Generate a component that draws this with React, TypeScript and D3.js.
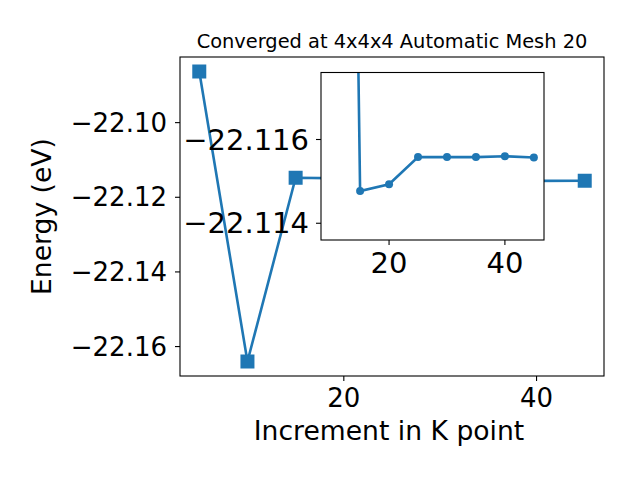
import React from 'react';
import * as d3 from 'd3';

// k-point increments and total energies (eV)
const kPoints = [5, 10, 15, 20, 25, 30, 35, 40, 45];
const energies = [-22.0863, -22.164, -22.11477, -22.11493, -22.11558, -22.11558, -22.11558, -22.1156, -22.11557];

const mainXTicks = [20, 40];
const mainYTicks = [-22.1, -22.12, -22.14, -22.16];
const insetXTicks = [20, 40];
const insetYTicks = [-22.116, -22.114];
// inset y range, inverted (top, bottom)
const insetYLim = [-22.1176, -22.1136];

const titleText = 'Converged at 4x4x4 Automatic Mesh 20';
const xLabel = 'Increment in K point';
const yLabel = 'Energy (eV)';

const W = 640;
const H = 480;
const blue = '#1f77b4';
const font = 'DejaVu Sans, sans-serif';
const tickFont = 26;
const insetFont = 29;

// matplotlib style 5% padding
const pad = (ext: [number, number]) => {
  const r = ext[1] - ext[0];
  return [ext[0] - r * 0.05, ext[1] + r * 0.05];
};

export default function App() {
  // main axes box
  const m = { left: 180, right: 604, top: 57, bottom: 376 };
  const x = d3.scaleLinear().domain(pad(d3.extent(kPoints) as [number, number])).range([m.left, m.right]);
  const y = d3.scaleLinear().domain(pad(d3.extent(energies) as [number, number])).range([m.bottom, m.top]);

  // inset axes box
  const ins = { left: 321, right: 544, top: 72.5, bottom: 240 };
  const insK = kPoints.slice(1);
  const insE = energies.slice(1);
  const ix = d3.scaleLinear().domain(pad(d3.extent(insK) as [number, number])).range([ins.left, ins.right]);
  const iy = d3.scaleLinear().domain(insetYLim).range([ins.top, ins.bottom]);

  const pts = kPoints.map((k, i) => [k, energies[i]] as [number, number]);
  const insPts = insK.map((k, i) => [k, insE[i]] as [number, number]);

  const mainLine = d3.line<[number, number]>().x(d => x(d[0])).y(d => y(d[1]));
  const insLine = d3.line<[number, number]>().x(d => ix(d[0])).y(d => iy(d[1]));

  const fmt2 = d3.format('.2f');
  const fmt3 = d3.format('.3f');
  const ms = 14;

  return (
    <svg width={W} height={H} style={{ position: 'absolute', left: 0, top: 0, background: '#fff' }} fontFamily={font}>
      <defs>
        <clipPath id="insClip">
          <rect x={ins.left} y={ins.top} width={ins.right - ins.left} height={ins.bottom - ins.top} />
        </clipPath>
      </defs>
      <rect width={W} height={H} fill="#fff" />

      {/* main axes */}
      <path d={mainLine(pts) || ''} fill="none" stroke={blue} strokeWidth={2.6} />
      {pts.map((d, i) => (
        <rect key={i} x={x(d[0]) - ms / 2} y={y(d[1]) - ms / 2} width={ms} height={ms} fill={blue} />
      ))}
      <rect x={m.left} y={m.top} width={m.right - m.left} height={m.bottom - m.top} fill="none" stroke="#000" strokeWidth={1.1} />
      {mainXTicks.map(t => (
        <g key={t}>
          <line x1={x(t)} x2={x(t)} y1={m.bottom} y2={m.bottom + 5} stroke="#000" strokeWidth={1.1} />
          <text x={x(t)} y={m.bottom + 31} textAnchor="middle" fontSize={tickFont}>{t}</text>
        </g>
      ))}
      {mainYTicks.map(t => (
        <g key={t}>
          <line x1={m.left - 5} x2={m.left} y1={y(t)} y2={y(t)} stroke="#000" strokeWidth={1.1} />
          <text x={m.left - 13} y={y(t)} dy="0.35em" textAnchor="end" fontSize={tickFont}>{fmt2(t)}</text>
        </g>
      ))}
      <text x={(m.left + m.right) / 2} y={48} textAnchor="middle" fontSize={19.4}>{titleText}</text>
      <text x={(m.left + m.right) / 2 - 3} y={440} textAnchor="middle" fontSize={26.6}>{xLabel}</text>
      <text transform={`translate(51,${(m.top + m.bottom) / 2}) rotate(-90)`} textAnchor="middle" fontSize={26.6}>{yLabel}</text>

      {/* inset axes */}
      <rect x={ins.left} y={ins.top} width={ins.right - ins.left} height={ins.bottom - ins.top} fill="#fff" />
      <g clipPath="url(#insClip)">
        <path d={insLine(insPts) || ''} fill="none" stroke={blue} strokeWidth={2.6} />
        {insPts.map((d, i) => (
          <circle key={i} cx={ix(d[0])} cy={iy(d[1])} r={4} fill={blue} />
        ))}
      </g>
      <rect x={ins.left} y={ins.top} width={ins.right - ins.left} height={ins.bottom - ins.top} fill="none" stroke="#000" strokeWidth={1.1} />
      {insetXTicks.map(t => (
        <g key={t}>
          <line x1={ix(t)} x2={ix(t)} y1={ins.bottom} y2={ins.bottom + 5} stroke="#000" strokeWidth={1.1} />
          <text x={ix(t)} y={ins.bottom + 32.5} textAnchor="middle" fontSize={insetFont}>{t}</text>
        </g>
      ))}
      {insetYTicks.map(t => (
        <g key={t}>
          <line x1={ins.left - 5} x2={ins.left} y1={iy(t)} y2={iy(t)} stroke="#000" strokeWidth={1.1} />
          <text x={ins.left - 12} y={iy(t)} dy="0.35em" textAnchor="end" fontSize={insetFont}>{fmt3(t)}</text>
        </g>
      ))}
    </svg>
  );
}
